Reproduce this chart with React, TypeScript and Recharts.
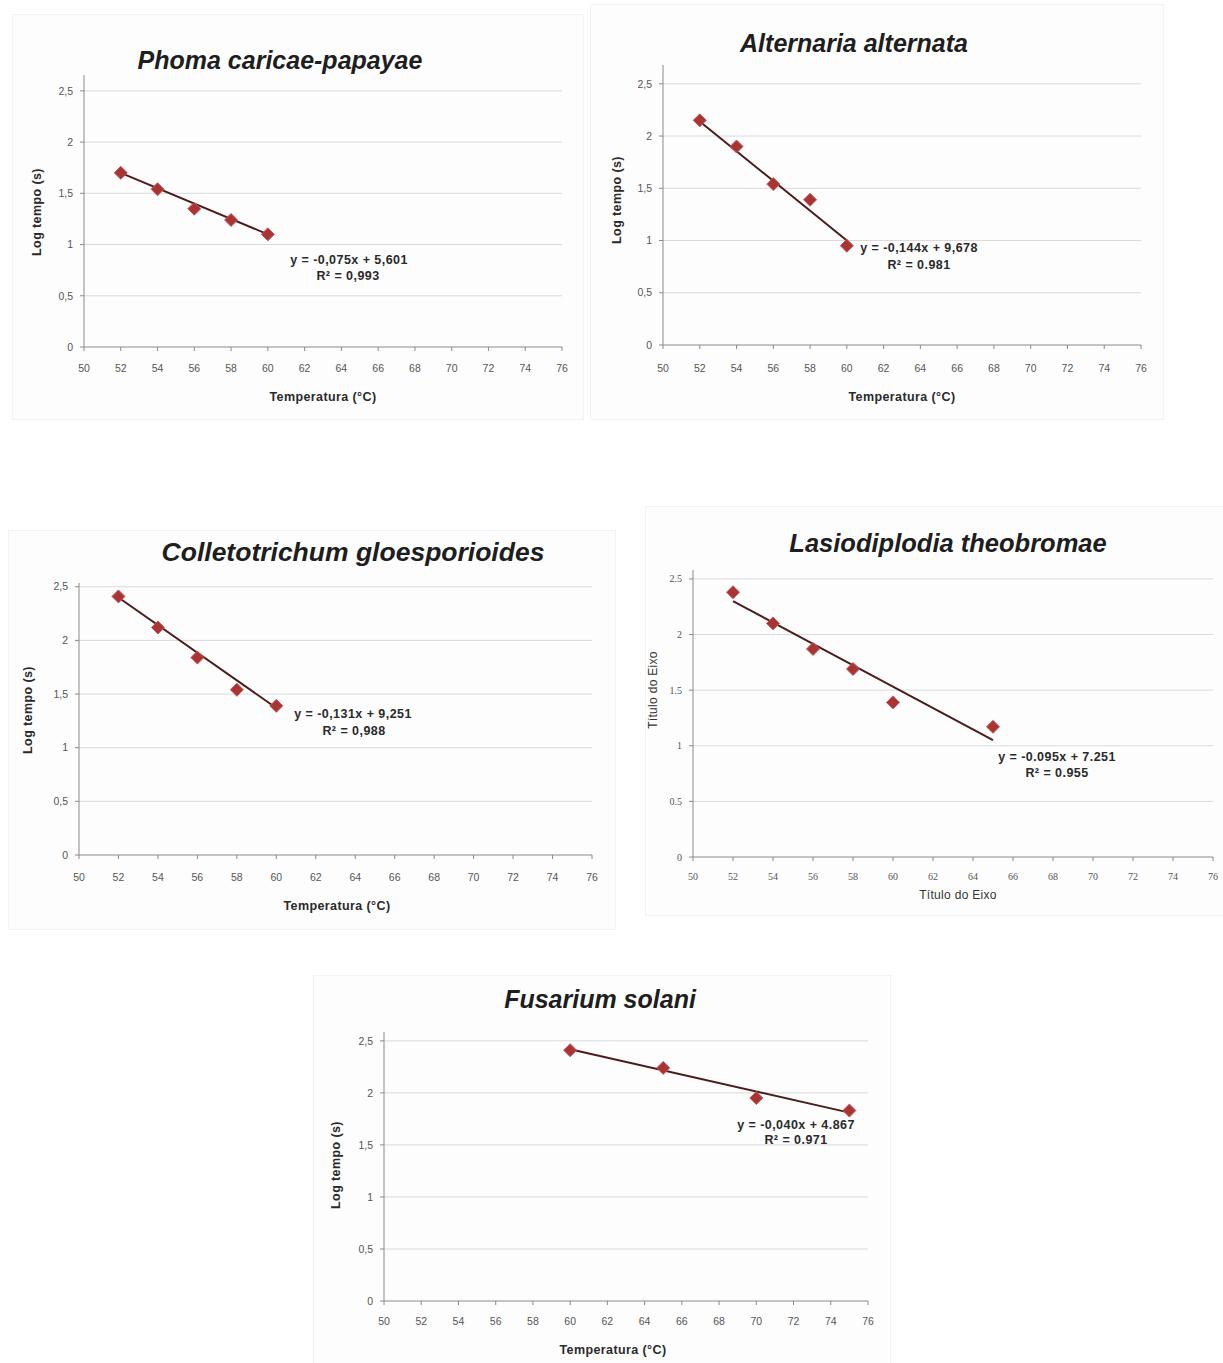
import React from 'react';
import { ScatterChart, Scatter, XAxis, YAxis, ReferenceLine } from 'recharts';

// ---------- data ----------
const xTicks = [50, 52, 54, 56, 58, 60, 62, 64, 66, 68, 70, 72, 74, 76];
const yTicks = [0, 0.5, 1, 1.5, 2, 2.5];

const phomaTemp = [52, 54, 56, 58, 60];
const phomaLog = [1.70, 1.54, 1.35, 1.24, 1.10];
const phomaTrendX = [52, 60];
const phomaTrendY = [1.70, 1.10];

const alternariaTemp = [52, 54, 56, 58, 60];
const alternariaLog = [2.15, 1.90, 1.54, 1.39, 0.95];
const alternariaTrendX = [52, 60];
const alternariaTrendY = [2.14, 1.00];

const collTemp = [52, 54, 56, 58, 60];
const collLog = [2.41, 2.12, 1.84, 1.54, 1.39];
const collTrendX = [52, 60];
const collTrendY = [2.40, 1.37];

const lasioTemp = [52, 54, 56, 58, 60, 65];
const lasioLog = [2.38, 2.10, 1.87, 1.69, 1.39, 1.17];
const lasioTrendX = [52, 65];
const lasioTrendY = [2.30, 1.05];

const fusTemp = [60, 65, 70, 75];
const fusLog = [2.41, 2.24, 1.95, 1.83];
const fusTrendX = [60, 75];
const fusTrendY = [2.42, 1.81];

// ---------- helpers ----------
const zip = (xs: number[], ys: number[]) => xs.map((x, i) => ({ x, y: ys[i] }));
const commaFmt = (v: number) => String(v).replace('.', ',');
const dotFmt = (v: number) => String(v);

const SANS = '"Liberation Sans", Arial, sans-serif';
const SERIF = '"Liberation Serif", "Times New Roman", serif';

const Diamond = (props: any) => {
  const { cx, cy } = props;
  if (cx == null || cy == null) return null;
  const r = 6.5;
  return (
    <path
      d={`M${cx},${cy - r}L${cx + r},${cy}L${cx},${cy + r}L${cx - r},${cy}Z`}
      fill="#a83434"
      stroke="#c45a5a"
      strokeWidth={1}
    />
  );
};

type Geo = {
  panel: [number, number, number, number];
  x50: number; x76: number; y0: number; yTop: number; ymax: number;
  xGap: number;
};

const YW = 40, MT = 6, MR = 22, XH = 40;

const Abs = ({ x, y, rot, style, children }: any) => (
  <div
    style={{
      position: 'absolute', left: x, top: y, whiteSpace: 'nowrap',
      transform: `translate(-50%,-50%)${rot ? ' rotate(-90deg)' : ''}`,
      ...style,
    }}
  >
    {children}
  </div>
);

const eqStyle = { fontFamily: SANS, fontWeight: 'bold', fontSize: 12.5, letterSpacing: 0.45, color: '#2a2a2a' };

function Panel(p: {
  geo: Geo; temps: number[]; logs: number[]; tx: number[]; ty: number[];
  fmt: (v: number) => string; tickFont: string; tickSize: number;
  title: string; titlePos: [number, number]; titleSize: number;
  xTitle: string; xTitlePos: [number, number];
  yTitle: string; yTitlePos: [number, number];
  axisTitleStyle: any;
  eq1: string; eq2: string; eqPos: [number, number, number, number];
}) {
  const g = p.geo;
  const w = g.x76 - g.x50 + YW + MR;
  const h = g.y0 - g.yTop + MT + XH;
  const pts = zip(p.temps, p.logs);
  const seg = zip(p.tx, p.ty);
  const tickStyle = { fontSize: p.tickSize, fill: '#555555', fontFamily: p.tickFont };
  return (
    <>
      <div
        style={{
          position: 'absolute', left: g.panel[0], top: g.panel[1], width: g.panel[2], height: g.panel[3],
          background: '#fdfdfd', border: '1px solid #f3f3f3', boxSizing: 'border-box',
        }}
      />
      <div style={{ position: 'absolute', left: g.x50 - YW, top: g.yTop - MT }}>
        <ScatterChart width={w} height={h} margin={{ top: MT, right: MR, bottom: 0, left: 0 }}>
          <XAxis
            type="number" dataKey="x" domain={[50, 76]} ticks={xTicks} interval={0}
            height={XH} tickSize={4} tickMargin={g.xGap}
            stroke="#8a8a8a" tick={tickStyle} allowDataOverflow
          />
          <YAxis
            type="number" dataKey="y" domain={[0, g.ymax]} ticks={yTicks} interval={0}
            width={YW} tickSize={4} tickMargin={7} tickFormatter={p.fmt}
            stroke="#8a8a8a" tick={tickStyle} allowDataOverflow
          />
          {yTicks.filter((t) => t > 0).map((t) => (
            <ReferenceLine key={t} y={t} stroke="#d9d9d9" strokeWidth={1} />
          ))}
          <Scatter data={pts} shape={Diamond} isAnimationActive={false} />
          <ReferenceLine segment={seg} stroke="#4a1c1c" strokeWidth={2} />
        </ScatterChart>
      </div>
      <Abs x={p.titlePos[0]} y={p.titlePos[1]}
        style={{ fontFamily: SANS, fontWeight: 'bold', fontStyle: 'italic', fontSize: p.titleSize, color: '#1e1e1e' }}>
        {p.title}
      </Abs>
      <Abs x={p.xTitlePos[0]} y={p.xTitlePos[1]} style={p.axisTitleStyle}>{p.xTitle}</Abs>
      <Abs x={p.yTitlePos[0]} y={p.yTitlePos[1]} rot style={p.axisTitleStyle}>{p.yTitle}</Abs>
      <Abs x={p.eqPos[0]} y={p.eqPos[1]} style={eqStyle}>{p.eq1}</Abs>
      <Abs x={p.eqPos[2]} y={p.eqPos[3]} style={eqStyle}>{p.eq2}</Abs>
    </>
  );
}

const boldAxis = { fontFamily: SANS, fontWeight: 'bold', fontSize: 12.5, letterSpacing: 0.4, color: '#2a2a2a' };
const plainAxis = { fontFamily: SANS, fontSize: 12, letterSpacing: 0.3, color: '#333' };

export default function App() {
  return (
    <div style={{ position: 'absolute', left: 0, top: 0, width: 1223, height: 1363, overflow: 'hidden', background: '#fff' }}>
      <Panel
        geo={{ panel: [12, 14, 572, 406], x50: 84, x76: 562, y0: 347, yTop: 75, ymax: 2.655, xGap: 14 }}
        temps={phomaTemp} logs={phomaLog} tx={phomaTrendX} ty={phomaTrendY}
        fmt={commaFmt} tickFont={SANS} tickSize={10.5}
        title="Phoma caricae-papayae" titlePos={[280, 60]} titleSize={25}
        xTitle="Temperatura (°C)" xTitlePos={[323, 397]}
        yTitle="Log tempo (s)" yTitlePos={[37, 212]} axisTitleStyle={boldAxis}
        eq1="y = -0,075x + 5,601" eq2="R² = 0,993" eqPos={[349, 260, 348, 276]}
      />
      <Panel
        geo={{ panel: [590, 4, 574, 416], x50: 663, x76: 1141, y0: 345, yTop: 65, ymax: 2.68, xGap: 16 }}
        temps={alternariaTemp} logs={alternariaLog} tx={alternariaTrendX} ty={alternariaTrendY}
        fmt={commaFmt} tickFont={SANS} tickSize={10.5}
        title="Alternaria alternata" titlePos={[854, 43]} titleSize={25}
        xTitle="Temperatura (°C)" xTitlePos={[902, 397]}
        yTitle="Log tempo (s)" yTitlePos={[617, 200]} axisTitleStyle={boldAxis}
        eq1="y = -0,144x + 9,678" eq2="R² = 0.981" eqPos={[919, 248, 919, 265]}
      />
      <Panel
        geo={{ panel: [8, 530, 608, 400], x50: 79, x76: 592, y0: 855, yTop: 583, ymax: 2.535, xGap: 15 }}
        temps={collTemp} logs={collLog} tx={collTrendX} ty={collTrendY}
        fmt={commaFmt} tickFont={SANS} tickSize={10.5}
        title="Colletotrichum gloesporioides" titlePos={[353, 552]} titleSize={26.5}
        xTitle="Temperatura (°C)" xTitlePos={[337, 906]}
        yTitle="Log tempo (s)" yTitlePos={[28, 710]} axisTitleStyle={boldAxis}
        eq1="y = -0,131x + 9,251" eq2="R² = 0,988" eqPos={[353, 714, 354, 731]}
      />
      <Panel
        geo={{ panel: [645, 506, 590, 410], x50: 693, x76: 1213, y0: 857, yTop: 570, ymax: 2.58, xGap: 12 }}
        temps={lasioTemp} logs={lasioLog} tx={lasioTrendX} ty={lasioTrendY}
        fmt={dotFmt} tickFont={SERIF} tickSize={10}
        title="Lasiodiplodia theobromae" titlePos={[948, 543]} titleSize={25.5}
        xTitle="Título do Eixo" xTitlePos={[958, 895]}
        yTitle="Título do Eixo" yTitlePos={[653, 690]} axisTitleStyle={plainAxis}
        eq1="y = -0.095x + 7.251" eq2="R² = 0.955" eqPos={[1057, 757, 1057, 773]}
      />
      <Panel
        geo={{ panel: [313, 975, 578, 400], x50: 384, x76: 868, y0: 1301, yTop: 1032, ymax: 2.585, xGap: 13 }}
        temps={fusTemp} logs={fusLog} tx={fusTrendX} ty={fusTrendY}
        fmt={commaFmt} tickFont={SANS} tickSize={10.5}
        title="Fusarium solani" titlePos={[600, 999]} titleSize={25}
        xTitle="Temperatura (°C)" xTitlePos={[613, 1350]}
        yTitle="Log tempo (s)" yTitlePos={[336, 1165]} axisTitleStyle={boldAxis}
        eq1="y = -0,040x + 4.867" eq2="R² = 0.971" eqPos={[796, 1125, 796, 1140]}
      />
    </div>
  );
}
